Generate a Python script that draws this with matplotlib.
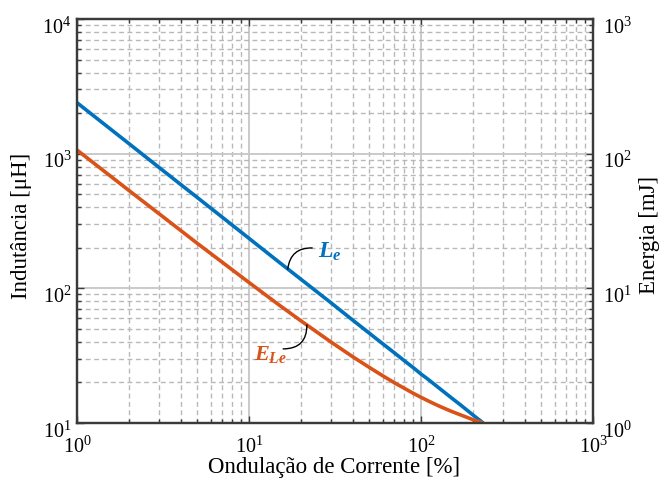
import numpy as np
import matplotlib
matplotlib.use("Agg")
import matplotlib.pyplot as plt
from matplotlib.ticker import LogLocator, FuncFormatter, NullFormatter
from matplotlib.transforms import ScaledTranslation

plt.rcParams['font.family'] = ['Liberation Serif', 'DejaVu Serif']
plt.rcParams['mathtext.fontset'] = 'custom'
plt.rcParams['mathtext.rm'] = 'Liberation Serif'
plt.rcParams['mathtext.it'] = 'Liberation Serif:italic:bold'
plt.rcParams['mathtext.bf'] = 'Liberation Serif:bold'

# Data
ripple = [1, 2, 3, 5, 7, 10, 15, 20, 30, 40, 50, 60, 70, 80, 90, 100, 110, 120, 130, 150, 170,
          200, 230]
inductance_uH = [2390, 1190, 790, 473, 337, 235, 156, 117, 78, 58.2, 46.5, 38.7, 33.2, 29.0,
                 25.8, 23.1, 21.1, 19.3, 17.8, 15.4, 13.6, 11.5, 10.0]
energy_mJ = [106.4, 53.4, 35.8, 21.6, 15.6, 11.05, 7.5, 5.75, 3.99, 3.11, 2.59, 2.24, 1.99, 1.81,
             1.664, 1.551, 1.46, 1.384, 1.321, 1.221, 1.148, 1.06, 1.0]

xticks = [1, 10, 100, 1000]
yticks_left = [10, 100, 1000, 10000]
yticks_right = [1, 10, 100, 1000]

BLUE = '#0072BD'
ORANGE = '#D95319'
AXC = '#3a3a3a'

fig = plt.figure(figsize=(6.6, 4.91), dpi=100)
ax = fig.add_axes([77/660, 1 - 423/491, (593-77)/660, (423-19)/491])
ax2 = ax.twinx()

def pow10(v, pos):
    e = int(round(np.log10(v)))
    return r'$\mathregular{10^{%d}}$' % e

for a in (ax, ax2):
    a.set_xscale('log')
    a.set_yscale('log')

ax.set_xlim(1, 1000)
ax.set_ylim(10, 10000)
ax2.set_ylim(1, 1000)

ax.set_xticks(xticks)
ax.set_yticks(yticks_left)
ax2.set_yticks(yticks_right)
for a in (ax, ax2):
    a.xaxis.set_minor_locator(LogLocator(base=10, subs=np.arange(2, 10)))
    a.yaxis.set_minor_locator(LogLocator(base=10, subs=np.arange(2, 10)))
    a.xaxis.set_major_formatter(FuncFormatter(pow10))
    a.yaxis.set_major_formatter(FuncFormatter(pow10))
    a.xaxis.set_minor_formatter(NullFormatter())
    a.yaxis.set_minor_formatter(NullFormatter())

TS = 14.5
ax.tick_params(axis='both', which='both', direction='in', top=True, right=False,
               colors=AXC, labelsize=TS, width=1.0)
ax.tick_params(which='major', length=5)
ax.tick_params(which='minor', length=3)
ax.tick_params(axis='x', which='major', pad=9.5)
ax.tick_params(axis='y', which='major', pad=4)
ax2.tick_params(axis='y', which='both', direction='in', colors=AXC, labelsize=TS, width=1.0)
ax2.tick_params(which='major', length=5, pad=7)
ax2.tick_params(which='minor', length=3)
for lab in ax.get_xticklabels() + ax.get_yticklabels() + ax2.get_yticklabels():
    lab.set_color('black')

# shift y tick labels slightly down (as in the reference)
down = ScaledTranslation(0, -4.5/72, fig.dpi_scale_trans)
for t in ax.yaxis.get_major_ticks():
    t.label1.set_transform(t.label1.get_transform() + down)
for t in ax2.yaxis.get_major_ticks():
    t.label2.set_transform(t.label2.get_transform() + down)

ax.grid(True, which='major', color='#c6c6c6', linestyle='-', linewidth=1.3)
ax.grid(True, which='minor', color='#b8b8b8', linestyle=(0, (3.5, 2.5)), linewidth=1.0)
ax.set_axisbelow(True)

for a in (ax, ax2):
    for s in a.spines.values():
        s.set_color(AXC)
        s.set_linewidth(1.6)

ax.plot(ripple, inductance_uH, color=BLUE, linewidth=2.6, solid_capstyle='butt')
ax2.plot(ripple, energy_mJ, color=ORANGE, linewidth=2.6, solid_capstyle='butt')

LS = 16.5
ax.set_xlabel('Ondulação de Corrente [%]', fontsize=LS)
ax.set_ylabel('Indutância [μH]', fontsize=LS)
ax2.set_ylabel('Energia [mJ]', fontsize=LS)
ax.xaxis.set_label_coords(0.498, -0.11)
ax.xaxis.label.set_va('center')
ax.yaxis.set_label_coords(-0.1085, 0.4876)
ax.yaxis.label.set_va('center')
ax2.yaxis.set_label_coords(1.109, 0.465)
ax2.yaxis.label.set_va('center')

# Annotations
xl = 16.8
yl = float(np.exp(np.interp(np.log(xl), np.log(ripple), np.log(inductance_uH))))
ax.annotate('', xy=(xl, yl), xytext=(23.3, 199.5),
            arrowprops=dict(arrowstyle='-', color='black', lw=1.0,
                            connectionstyle='arc3,rad=0.45', shrinkA=0, shrinkB=0))
ax.text(25.2, 188, r'$L_e$', color=BLUE, fontsize=17, va='center', ha='left')

xe = 21.7
ye = float(np.exp(np.interp(np.log(xe), np.log(ripple), np.log(energy_mJ))))
ax2.annotate('', xy=(xe, ye), xytext=(15.8, 3.55),
             arrowprops=dict(arrowstyle='-', color='black', lw=1.0,
                             connectionstyle='arc3,rad=0.5', shrinkA=0, shrinkB=0))
ax2.text(16.6, 3.2, r'$E_{Le}$', color=ORANGE, fontsize=16, va='center', ha='right')

fig.savefig('out.png', dpi=100)
